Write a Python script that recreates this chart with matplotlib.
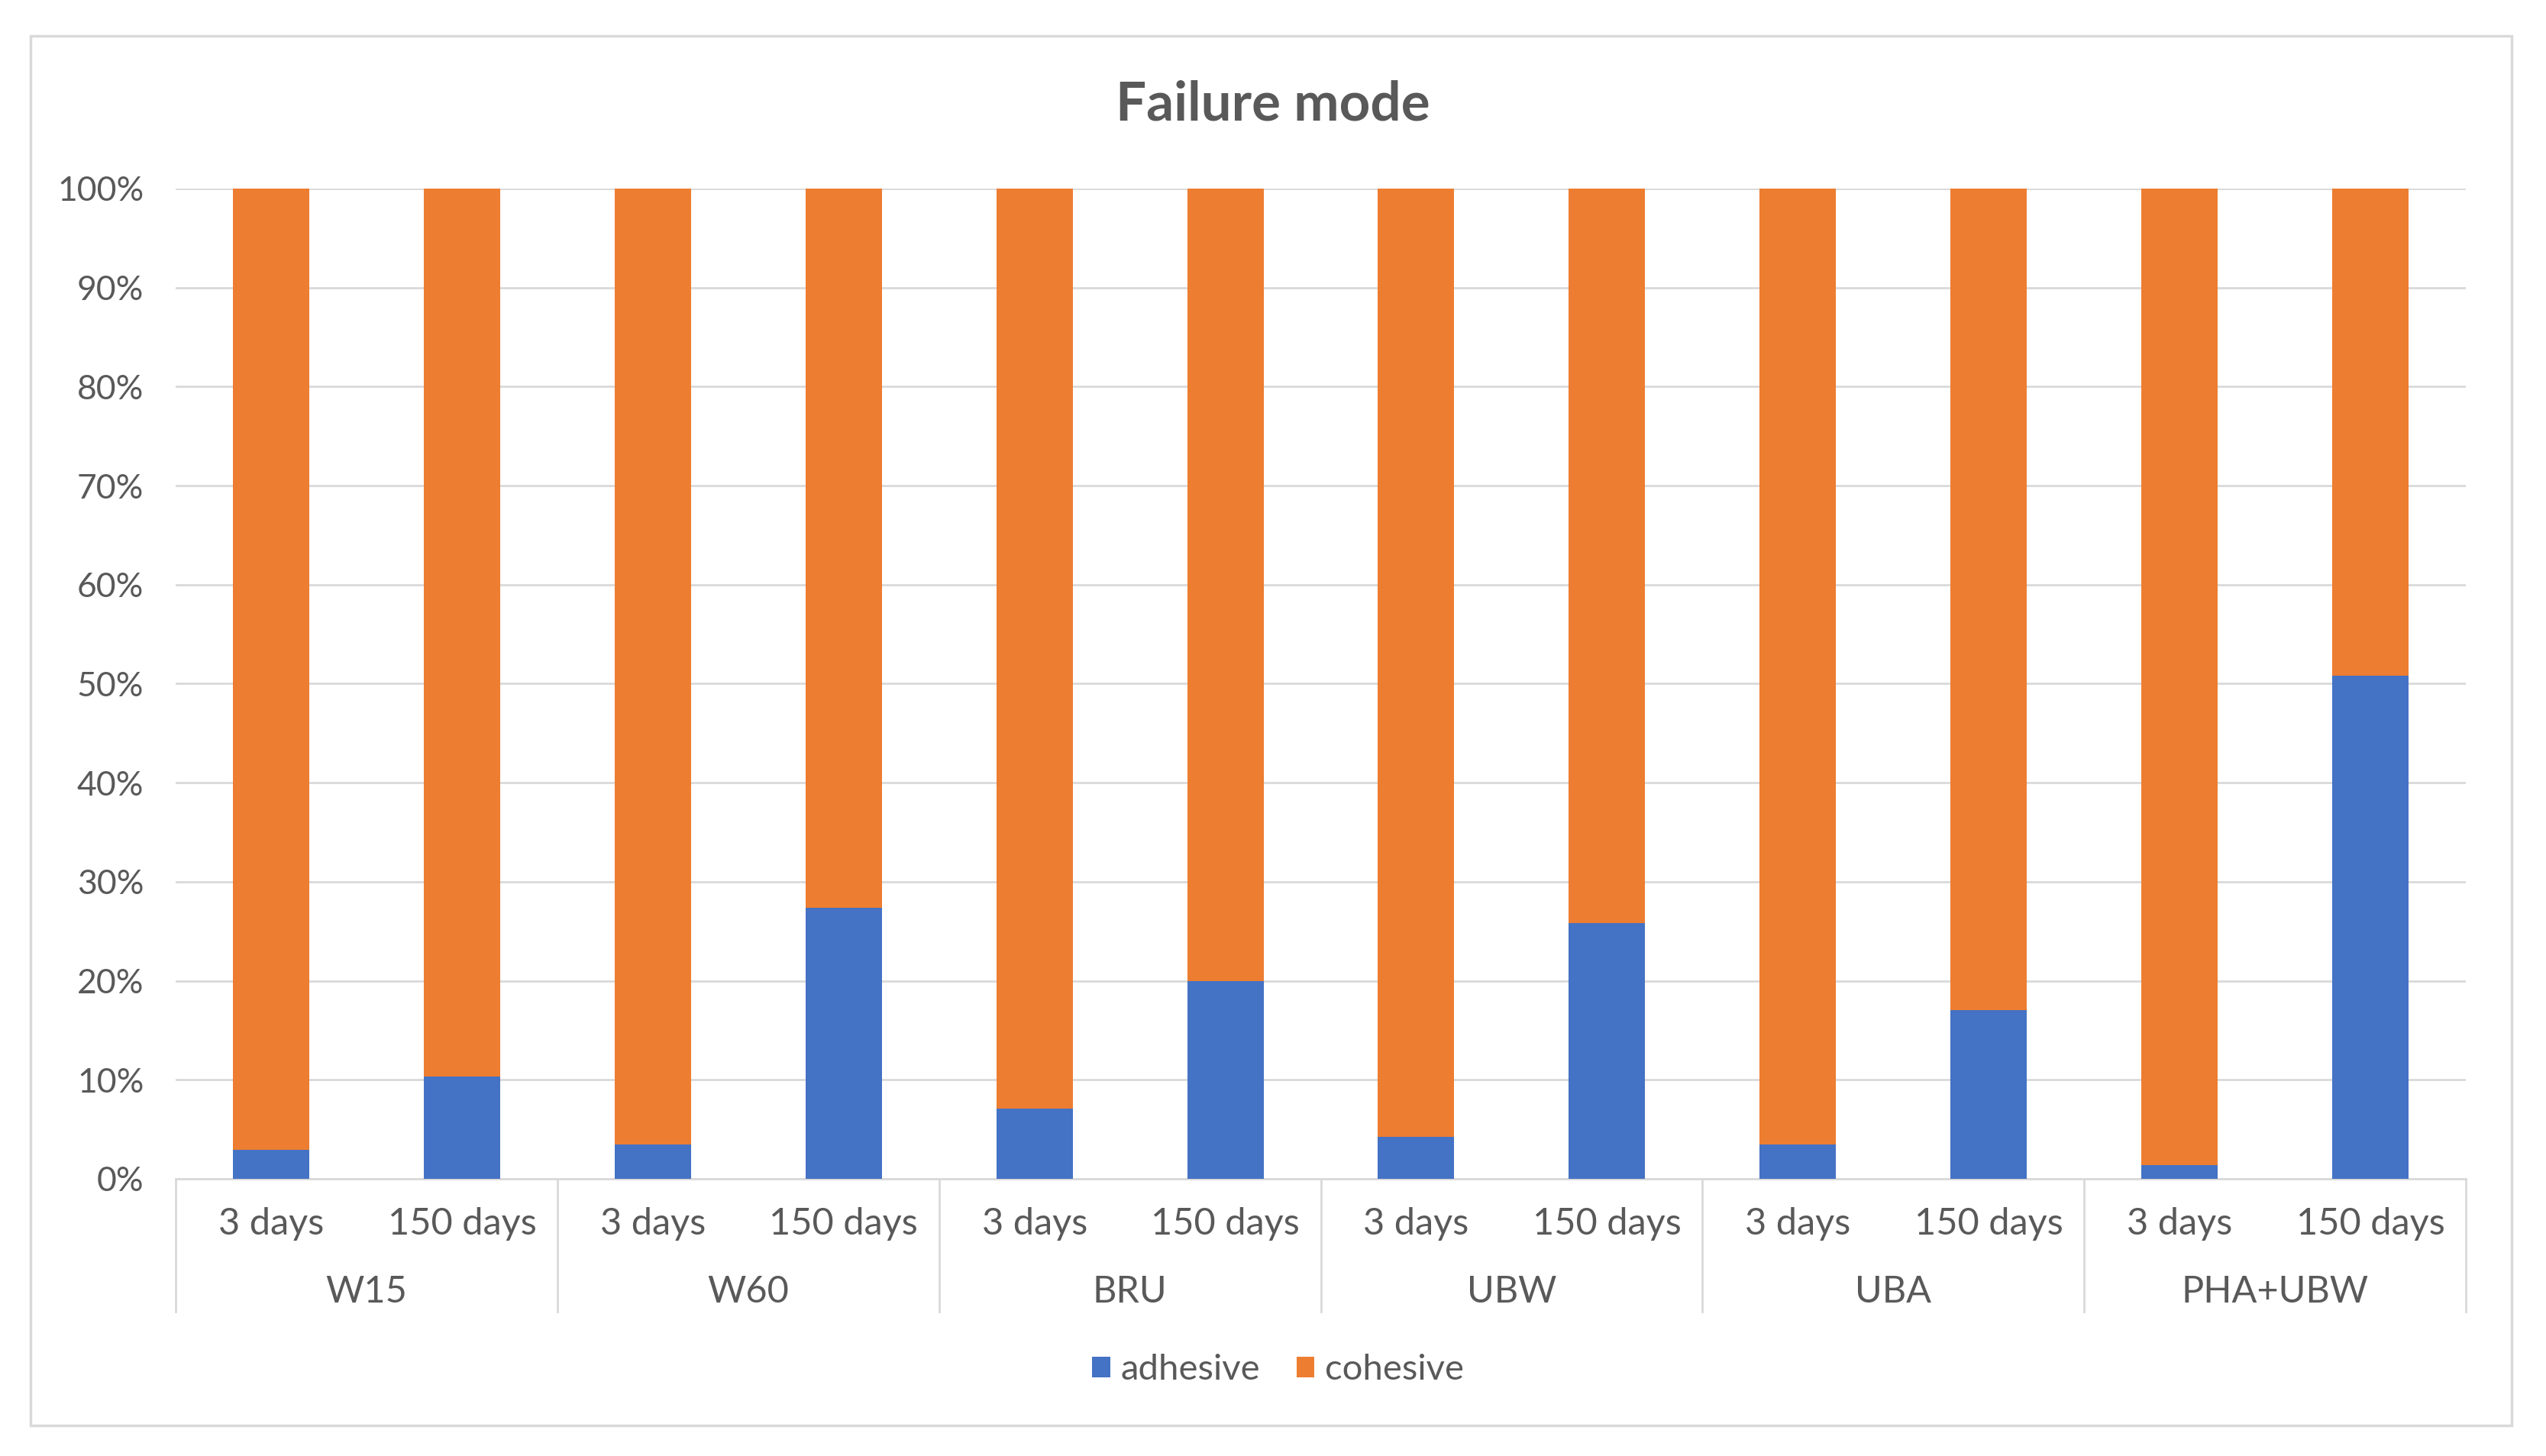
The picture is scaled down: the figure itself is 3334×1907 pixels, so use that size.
import numpy as np
import matplotlib
matplotlib.use("Agg")
import matplotlib.pyplot as plt
from matplotlib.patches import Rectangle

plt.rcParams['font.family'] = ['Lato', 'DejaVu Sans']

groups = ["W15", "W60", "BRU", "UBW", "UBA", "PHA+UBW"]
ages = ["3 days", "150 days"]
# percentages
adhesive = [2.9, 10.3, 3.5, 27.4, 7.1, 20.0, 4.2, 25.8, 3.5, 17.0, 1.4, 50.8]
cohesive = [97.1, 89.7, 96.5, 72.6, 92.9, 80.0, 95.8, 74.2, 96.5, 83.0, 98.6, 49.2]

blue = "#4472C4"
orange = "#ED7D31"
txt = "#595959"
grid = "#D9D9D9"

fig = plt.figure(figsize=(33.34, 19.07), dpi=100)
ax = fig.add_axes([0.069, 0.1904, 0.8995, 0.6801])

x = np.arange(len(adhesive))
ax.bar(x, adhesive, width=0.4, color=blue, label="adhesive", zorder=3)
ax.bar(x, cohesive, width=0.4, bottom=adhesive, color=orange, label="cohesive", zorder=3)

ax.set_xlim(-0.5, len(x) - 0.5)
ax.set_ylim(0, 100)
ax.set_yticks(np.arange(0, 101, 10))
ax.set_yticklabels([f"{v}%" for v in range(0, 101, 10)])
ax.tick_params(axis="y", length=0, pad=30, labelsize=32, labelcolor=txt)
ax.set_xticks([])
ax.grid(axis="y", color=grid, linewidth=2, zorder=0)
for s in ["top", "right", "left"]:
    ax.spines[s].set_visible(False)
ax.spines["bottom"].set_color(grid)
ax.spines["bottom"].set_linewidth(2)

# two-level category axis
trans = matplotlib.transforms.blended_transform_factory(ax.transData, ax.transAxes)
for i in x:
    ax.text(i, -0.0455, ages[i % 2], transform=trans, ha="center", va="center",
            fontsize=35, color=txt)
for g, name in enumerate(groups):
    ax.text(2 * g + 0.5, -0.114, name, transform=trans, ha="center", va="center",
            fontsize=35, color=txt)
for b in np.arange(-0.5, len(x), 2):
    ax.plot([b, b], [0, -0.134], transform=trans, color=grid, linewidth=2, clip_on=False)

fig.text(0.5, 0.928, "Failure mode", ha="center", va="center", fontsize=51,
         fontweight="bold", color=txt)

fig.legend(loc="center", bbox_to_anchor=(0.502, 0.059), ncol=2, frameon=False,
           fontsize=34, labelcolor=txt, handlelength=0.5, handleheight=0.5,
           handletextpad=0.3, columnspacing=1.0)

fig.patches.append(Rectangle((0.012, 0.021), 0.9745, 0.9544, transform=fig.transFigure,
                             fill=False, edgecolor=grid, linewidth=2.5))

fig.savefig("out.png", dpi=100, facecolor="white")
